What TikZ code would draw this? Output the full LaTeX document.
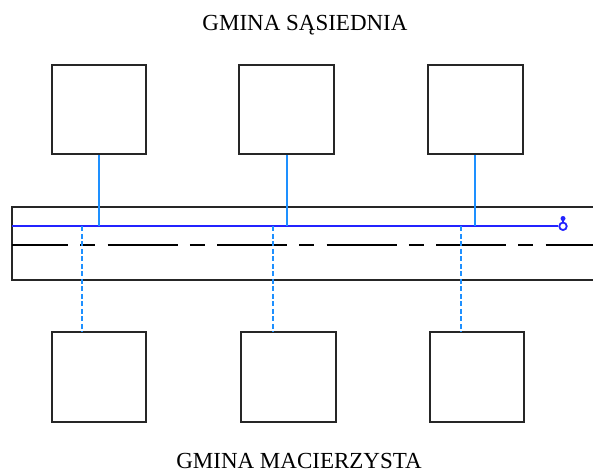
\documentclass[tikz,border=0pt]{standalone}
\usepackage{fontspec}
\setmainfont{Liberation Serif}
\definecolor{roadblue}{RGB}{35,35,255}
\definecolor{linkblue}{RGB}{30,144,255}
\begin{document}
\begin{tikzpicture}[x=1pt,y=-1pt,
  lot/.style={draw=black!85,line width=1.8pt,minimum height=89pt,inner sep=0pt,fill=white},
  roadedge/.style={draw=black!85,line width=1.8pt},
  centreline/.style={draw=black,line width=1.6pt,dash pattern=on 70pt off 12.25pt on 15pt off 12.25pt,dash phase=14pt},
  mainline/.style={draw=roadblue,line width=1.7pt},
  link/.style={draw=linkblue,line width=1.8pt},
  dlink/.style={draw=linkblue,line width=1.8pt,dash pattern=on 5pt off 2.5pt},
  title/.style={font=\fontsize{23}{27}\selectfont,anchor=base,inner sep=0pt}]
\useasboundingbox (0,0) rectangle (593,473);

% titles
\node[title] (top) at (305,30.5) {GMINA SĄSIEDNIA};
\node[title] (bottom) at (299,468) {GMINA MACIERZYSTA};

% road
\coordinate (rtl) at (12,207);
\coordinate (rbl) at (12,280.3);
\coordinate (rtr) at (593,207);
\coordinate (rbr) at (593,280.3);
\coordinate (cl) at (12,245);
\coordinate (cr) at (593,245);
\draw[roadedge] (rtr) -- (rtl) -- (rbl) -- (rbr);
\draw[centreline] (cl) -- (cr);

% blue main line with end marker
\coordinate (bl) at (12,226.3);
\node[circle,draw=roadblue,line width=1.8pt,minimum size=7.5pt,inner sep=0pt] (mk) at (563,226.3) {};
\node[circle,fill=roadblue,minimum size=5pt,inner sep=0pt] (mkdot) at (563,218.5) {};
\draw[roadblue,line width=1.8pt] (mkdot.center) -- (mk.north);
\draw[mainline] (bl) -- (mk.west);

% top plots
\node[lot,minimum width=93.4pt] (T1) at (99,109.8) {};
\node[lot,minimum width=94.7pt] (T2) at (286.7,109.8) {};
\node[lot,minimum width=95pt] (T3) at (475.2,109.8) {};

% bottom plots
\node[lot,minimum width=93.4pt,minimum height=90pt] (B1) at (99,377.3) {};
\node[lot,minimum width=94.7pt,minimum height=90pt] (B2) at (288.3,377.3) {};
\node[lot,minimum width=94.3pt,minimum height=90pt] (B3) at (476.8,377.3) {};

% solid connectors from top plots
\draw[link] (T1.south) -- (T1.south |- bl);
\draw[link] (T2.south) -- (T2.south |- bl);
\draw[link] (T3.south) -- (T3.south |- bl);

% dashed connectors to bottom plots
\coordinate (d1) at (82,226.3);
\coordinate (d2) at (272.7,226.3);
\coordinate (d3) at (461,226.3);
\draw[dlink] (d1) -- (d1 |- B1.north);
\draw[dlink] (d2) -- (d2 |- B2.north);
\draw[dlink] (d3) -- (d3 |- B3.north);
\end{tikzpicture}
\end{document}
